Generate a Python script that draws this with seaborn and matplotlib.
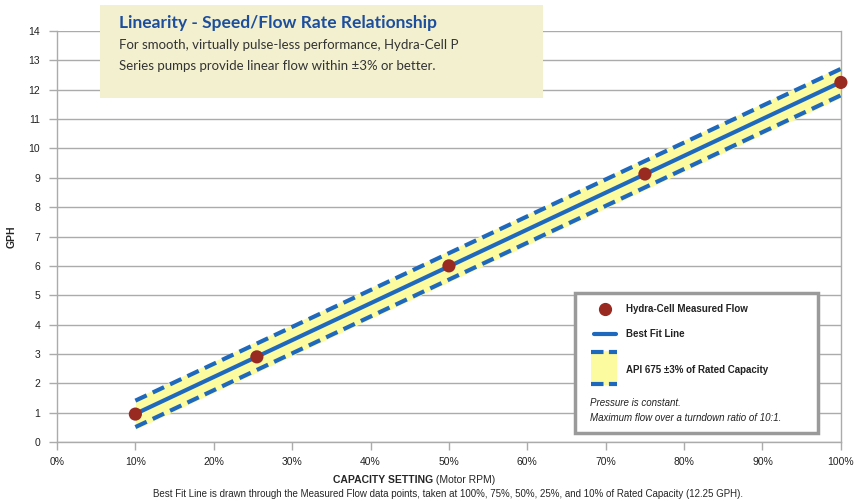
import numpy as np
import pandas as pd
import matplotlib.pyplot as plt
import seaborn as sns
from matplotlib.patches import Rectangle
from matplotlib.lines import Line2D

capacity_pct = [10, 25.5, 50, 75, 100]
measured_gph = [0.95, 2.9, 6.0, 9.13, 12.25]
band_gph = 0.45
x_ticks = list(range(0, 101, 10))
y_ticks = list(range(0, 15))

sns.set_style("white")
plt.rcParams["font.family"] = ["Liberation Sans", "DejaVu Sans"]

blue = "#1E69BE"
red = "#992A22"
yellow = "#FDFBA0"
grey = "#ABABAB"

data = pd.DataFrame({"capacity": capacity_pct, "gph": measured_gph})
slope, intercept = np.polyfit(data["capacity"], data["gph"], 1)
fit = pd.DataFrame({"capacity": [capacity_pct[0], capacity_pct[-1]]})
fit["gph"] = intercept + slope * fit["capacity"]
fit["upper"] = fit["gph"] + band_gph
fit["lower"] = fit["gph"] - band_gph

fig = plt.figure(figsize=(8.66, 5.01), dpi=100)
ax = fig.add_axes([0.0658, 0.1178, 0.9052, 0.8202])

ax.fill_between(fit["capacity"], fit["lower"] - 0.08, fit["upper"] + 0.08,
                color=yellow, zorder=2, linewidth=0)
sns.lineplot(data=fit, x="capacity", y="upper", ax=ax, color=blue, lw=3,
             linestyle=(0, (3, 1.6)), zorder=3)
sns.lineplot(data=fit, x="capacity", y="lower", ax=ax, color=blue, lw=3,
             linestyle=(0, (3, 1.6)), zorder=3)
sns.lineplot(data=fit, x="capacity", y="gph", ax=ax, color=blue, lw=3, zorder=4)
sns.scatterplot(data=data, x="capacity", y="gph", ax=ax, color=red, s=90,
                edgecolor="none", zorder=5, clip_on=False)

ax.set_xlim(0, 100)
ax.set_ylim(0, 14)
ax.set_xticks(x_ticks)
ax.set_xticklabels([f"{t}%" for t in x_ticks])
ax.set_yticks(y_ticks)
ax.grid(axis="y", color=grey, lw=1)
ax.tick_params(axis="both", labelsize=7.5, colors=grey, labelcolor="#222222",
               length=6, width=1, direction="out", left=True, bottom=True)
ax.tick_params(axis="x", pad=5)
ax.tick_params(axis="y", pad=6)
for side in ["left", "right", "bottom"]:
    ax.spines[side].set_color(grey)
    ax.spines[side].set_linewidth(1)
ax.spines["top"].set_visible(False)
ax.set_xlabel("")
ax.set_ylabel("GPH", fontsize=7.5, fontweight="bold")
ax.yaxis.set_label_coords(-0.051, 0.5)

fig.text(0.5, 0.042, "CAPACITY SETTING", fontsize=7.5, fontweight="bold",
         ha="right", va="center")
fig.text(0.5, 0.042, " (Motor RPM)", fontsize=7.5, ha="left", va="center")
fig.text(0.517, 0.013,
         "Best Fit Line is drawn through the Measured Flow data points, taken at "
         "100%, 75%, 50%, 25%, and 10% of Rated Capacity (12.25 GPH).",
         fontsize=7, ha="center", va="center")

# title box
fig.add_artist(Rectangle((0.1155, 0.8044), 0.5115, 0.1856, transform=fig.transFigure,
                         facecolor="#F3F0CF", edgecolor="none", zorder=6))
fig.text(0.137, 0.955, "Linearity - Speed/Flow Rate Relationship", fontsize=12.5,
         fontweight="bold", color="#1D4E9E", family=["Lato", "DejaVu Sans"],
         va="center", zorder=7)
fig.text(0.137, 0.91, "For smooth, virtually pulse-less performance, Hydra-Cell P",
         fontsize=9.5, color="#333333", family=["Lato", "DejaVu Sans"],
         va="center", zorder=7)
fig.text(0.137, 0.868, "Series pumps provide linear flow within \u00b13% or better.",
         fontsize=9.5, color="#333333", family=["Lato", "DejaVu Sans"],
         va="center", zorder=7)

# legend box
fig.add_artist(Rectangle((0.664, 0.1357), 0.2806, 0.2794, transform=fig.transFigure,
                         facecolor="white", edgecolor="#9A9A9A", lw=2.5, zorder=6))
fx = lambda px: px / 866
fy = lambda py: 1 - py / 501
fig.add_artist(Line2D([fx(605)], [fy(309)], marker="o", markersize=8.5, color=red,
                      transform=fig.transFigure, zorder=7))
fig.add_artist(Line2D([fx(594), fx(616)], [fy(334), fy(334)], lw=3, color=blue,
                      transform=fig.transFigure, zorder=7))
fig.add_artist(Rectangle((fx(591), fy(385)), fx(617) - fx(591), fy(351) - fy(385),
                         transform=fig.transFigure, facecolor=yellow,
                         edgecolor="none", zorder=7))
for py in [352, 384]:
    fig.add_artist(Line2D([fx(591), fx(617)], [fy(py), fy(py)], lw=3, color=blue,
                          linestyle=(0, (3, 1.3)), transform=fig.transFigure, zorder=8))
legend_labels = [(309, "Hydra-Cell Measured Flow"), (334, "Best Fit Line"),
                 (370, "API 675 \u00b13% of Rated Capacity")]
for py, label in legend_labels:
    fig.text(fx(626), fy(py), label, fontsize=7, fontweight="bold", color="#222222",
             va="center", zorder=8)
fig.text(fx(590), fy(403), "Pressure is constant.", fontsize=7, style="italic",
         color="#222222", va="center", zorder=8)
fig.text(fx(590), fy(418), "Maximum flow over a turndown ratio of 10:1.", fontsize=7,
         style="italic", color="#222222", va="center", zorder=8)

fig.savefig("out.png", dpi=100)
